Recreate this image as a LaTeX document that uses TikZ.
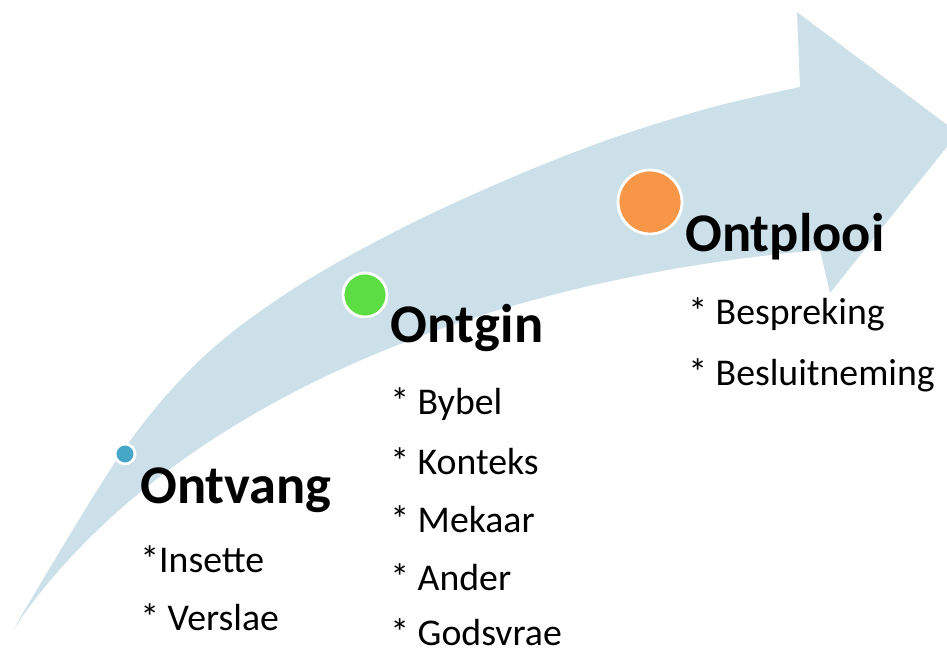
\documentclass[tikz,border=0pt]{standalone}
\usepackage{fontspec}
\setmainfont{Carlito}
\usetikzlibrary{shadows}
\definecolor{arrowblue}{RGB}{204,224,233}
\definecolor{dotteal}{RGB}{70,166,200}
\definecolor{dotgreen}{RGB}{92,222,67}
\definecolor{dotorange}{RGB}{247,150,70}
\tikzset{
  dot/.style={circle, draw=white, line width=1.6pt, inner sep=0pt,
    drop shadow={shadow xshift=0.4pt, shadow yshift=-0.8pt, opacity=0.35}},
  title/.style={anchor=base west, inner sep=0pt, font=\fontsize{31}{31}\selectfont\bfseries},
  item/.style={anchor=base west, inner sep=0pt, font=\fontsize{21.5}{21.5}\selectfont}
}
\begin{document}
\begin{tikzpicture}[x=0.02cm, y=-0.02cm]
\useasboundingbox (0,0) rectangle (947,653);
\begin{scope}
\clip (0,0) rectangle (947,653);
% curved arrow
\fill[arrowblue] plot[smooth, tension=0.55] coordinates {(13,630) (120,455) (200,360) (290,291) (400,229) (513,177) (613,138) (713,107) (800,87)}
  -- (797,12) -- (958,133) -- (830,293) -- (820,250)
  .. controls (420,285) and (140,440) .. (13,630) -- cycle;
\end{scope}
% dots
\node[dot, fill=dotteal, minimum size=0.4cm] (d1) at (125,454) {};
\node[dot, fill=dotgreen, minimum size=0.88cm] (d2) at (365,295) {};
\node[dot, fill=dotorange, minimum size=1.28cm] (d3) at (650,202) {};
% stage 1
\node[title] (t1) at (140,503) {Ontvang};
\node[item] (i11) at (140,572) {*Insette};
\node[item] (i12) at (140,630) {* Verslae};
% stage 2
\node[title] (t2) at (390,342) {Ontgin};
\node[item] (i21) at (390,414) {* Bybel};
\node[item] (i22) at (390,474) {* Konteks};
\node[item] (i23) at (390,532) {* Mekaar};
\node[item] (i24) at (390,590) {* Ander};
\node[item] (i25) at (390,645) {* Godsvrae};
% stage 3
\node[title] (t3) at (685,251) {Ontplooi};
\node[item] (i31) at (688,324) {* Bespreking};
\node[item] (i32) at (688,385) {* Besluitneming};
\end{tikzpicture}
\end{document}
